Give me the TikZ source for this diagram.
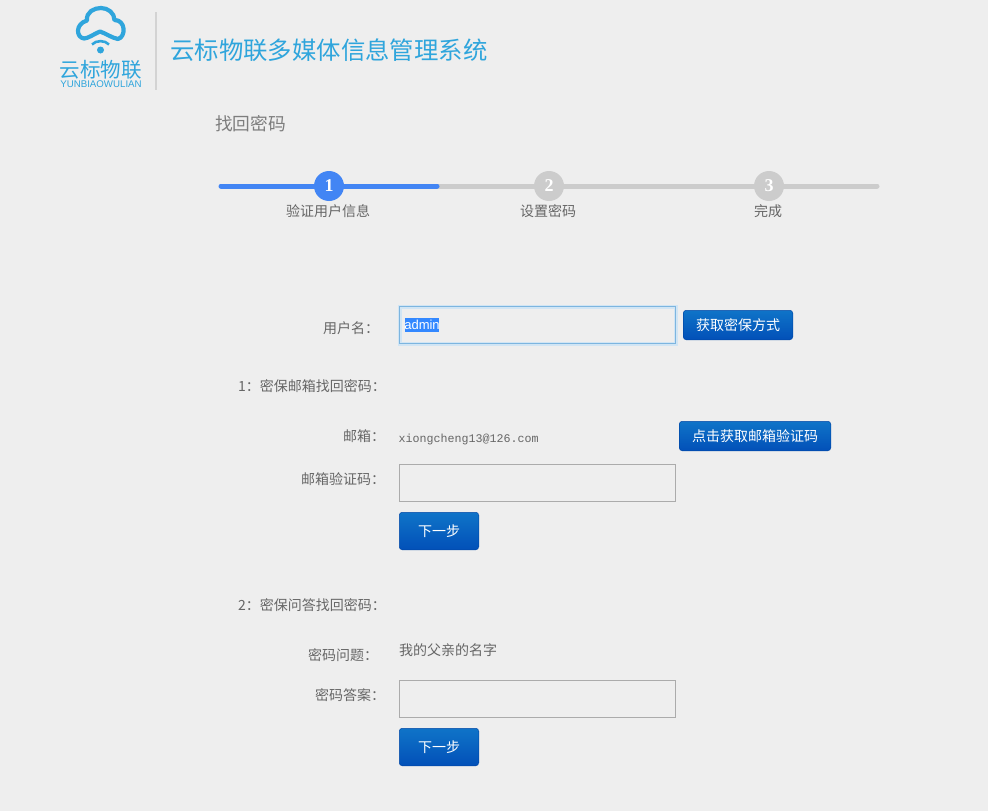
\documentclass[tikz,border=0pt]{standalone}
\usepackage{fontspec}
\setmainfont{Noto Sans CJK SC}
\newfontfamily\latinsans{Liberation Sans}
\newfontfamily\latinmono{Liberation Mono}
\newfontfamily\latinserif{Liberation Serif}
\usetikzlibrary{positioning}
\definecolor{pagebg}{HTML}{EEEEEE}
\definecolor{logoblue}{HTML}{2FA5DC}
\definecolor{stepblue}{HTML}{4285F4}
\definecolor{stepgrey}{HTML}{CCCCCC}
\definecolor{labelgrey}{HTML}{666666}
\definecolor{boxgrey}{HTML}{ABABAB}
\definecolor{focusblue}{HTML}{7DB5DF}
\definecolor{selectblue}{HTML}{3388FF}
\definecolor{btntop}{HTML}{0F74C8}
\definecolor{btnbottom}{HTML}{0250B8}
\tikzset{
    label text/.style={anchor=west, inner sep=0pt, text=labelgrey, font=\fontsize{14}{14}\selectfont},
    step dot/.style={circle, minimum size=30pt, inner sep=0pt, text=white, font=\latinserif\bfseries\fontsize{18}{18}\selectfont},
    step text/.style={inner sep=0pt, text=labelgrey, font=\fontsize{14}{14}\selectfont},
    input box/.style={draw=boxgrey, line width=1.2pt, anchor=north west, minimum width=276pt, minimum height=37pt, inner sep=0pt},
    blue button/.style={anchor=north west, rounded corners=3pt, top color=btntop, bottom color=btnbottom, draw=btnbottom!90!black, line width=0.5pt, inner sep=0pt, text=white, font=\fontsize{14}{14}\selectfont}
}
\begin{document}
\begin{tikzpicture}[x=1pt, y=-1pt]
    \fill[pagebg] (0,0) rectangle (988,811);
    \useasboundingbox (0,0) rectangle (988,811);

    % logo
    \draw[logoblue, line width=4.2pt, line cap=round, line join=round]
        (100,31.5) .. controls (94,34) and (88,38.5) .. (84,38.5)
        .. controls (76,37.5) and (75,24) .. (87,20.5)
        .. controls (86,12) and (94,8) .. (101,8)
        .. controls (108,8) and (114.5,13) .. (114.5,20)
        .. controls (126,20) and (126,37) .. (118,39)
        .. controls (112,38) and (106,33.5) .. (100,31.5) -- cycle;
    \draw[logoblue, line width=2.6pt] (92,44.5) .. controls (96,40) and (105,40) .. (109,44.5);
    \fill[logoblue] (100.5,50) circle (3.5pt);
    \node[inner sep=0pt, text=logoblue, font=\fontsize{20.5}{20.5}\selectfont] (logotext) at (100.5,70) {云标物联};
    \node[inner sep=0pt, text=logoblue, font=\latinsans\fontsize{9.7}{9.7}\selectfont] (logolatin) at (101,84) {YUNBIAOWULIAN};
    \draw[stepgrey!80!pagebg, line width=1.5pt] (156,12) -- (156,90);
    \node[label text, text=logoblue, font=\fontsize{24.4}{25}\selectfont] (title) at (170,50) {云标物联多媒体信息管理系统};
    \node[label text, text=labelgrey!85!white, font=\fontsize{17.7}{18}\selectfont] (heading) at (215,124) {找回密码};

    % progress steps
    \coordinate (trackstart) at (221,186);
    \coordinate (trackmid) at (437,186);
    \coordinate (trackend) at (877,186);
    \draw[stepgrey, line width=5pt, line cap=round] (trackmid) -- (trackend);
    \draw[stepblue, line width=5pt, line cap=round] (trackstart) -- (trackmid);
    \node[step dot, fill=stepblue] (stepone) at (329,186) {1};
    \node[step dot, fill=stepgrey] (steptwo) at (549,186) {2};
    \node[step dot, fill=stepgrey] (stepthree) at (769,186) {3};
    \node[step text] (steponetext) at (328,211.5) {验证用户信息};
    \node[step text] (steptwotext) at (548,211.5) {设置密码};
    \node[step text] (stepthreetext) at (768,211.5) {完成};

    % user name row
    \node[label text] (userlabel) at (323,328.5) {用户名：};
    \node[input box, draw=focusblue!35, line width=3.5pt] (userglow) at (398.2,305.2) {};
    \node[input box, draw=focusblue] (userbox) at (398.9,305.9) {};
    \fill[selectblue] (405,318) rectangle (439,332);
    \node[inner sep=0pt, text=white, font=\latinsans\fontsize{13}{13}\selectfont] (useradmin) at (422,325) {admin};
    \node[blue button, minimum width=109.5pt, minimum height=29.5pt] (querybtn) at (683,310) {获取密保方式};

    % mail part
    \node[label text] (mailhead) at (238,386.5) {1：密保邮箱找回密码：};
    \node[label text] (maillabel) at (343,436.5) {邮箱：};
    \node[label text, font=\latinmono\fontsize{11.67}{12}\selectfont] (mailvalue) at (398.5,439) {xiongcheng13@126.com};
    \node[blue button, minimum width=151.5pt, minimum height=29.5pt] (mailbtn) at (679,421) {点击获取邮箱验证码};
    \node[label text] (codelabel) at (301,479.5) {邮箱验证码：};
    \node[input box] (codebox) at (398.9,463.9) {};
    \node[blue button, minimum width=79.5pt, minimum height=37.5pt] (nextone) at (399,512) {下一步};

    % question part
    \node[label text] (questhead) at (238,605.5) {2：密保问答找回密码：};
    \node[label text] (questlabel) at (308,655.5) {密码问题：};
    \node[label text] (questvalue) at (399,650.5) {我的父亲的名字};
    \node[label text] (answerlabel) at (315,695.5) {密码答案：};
    \node[input box] (answerbox) at (398.9,679.9) {};
    \node[blue button, minimum width=79.5pt, minimum height=37.5pt] (nexttwo) at (399,728) {下一步};
\end{tikzpicture}
\end{document}
